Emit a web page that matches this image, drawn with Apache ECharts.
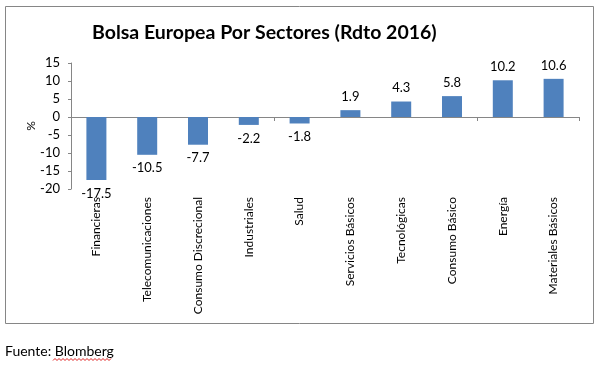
<!DOCTYPE html>
<html>
<head>
<meta charset="utf-8">
<script src="https://cdn.jsdelivr.net/npm/echarts@6/dist/echarts.min.js"></script>
<style>
html,body{margin:0;padding:0;background:#fff;}
#chart{width:601px;height:370px;}
</style>
</head>
<body>
<div id="chart"></div>
<script>
var categories = ["Financieras","Telecomunicaciones","Consumo Discrecional","Industriales","Salud","Servicios Básicos","Tecnológicas","Consumo Básico","Energía","Materiales Básicos"];
var values = [-17.5,-10.5,-7.7,-2.2,-1.8,1.9,4.3,5.8,10.2,10.6];
var yTicks = {min:-20, max:15, interval:5};

var FONT = "Lato, 'Open Sans', sans-serif";

// squiggle under "Blomberg"
var squig = [];
for (var x = 53, i = 0; x <= 112; x += 2, i++) squig.push([x, i % 2 ? 358.5 : 360.5]);

var chart = echarts.init(document.getElementById('chart'), null, {renderer:'canvas'});
chart.setOption({
  animation:false,
  backgroundColor:'#fff',
  title:{
    text:'Bolsa Europea Por Sectores (Rdto 2016)',
    left:87, top:18,
    textStyle:{fontFamily:FONT, fontWeight:'bold', fontSize:19.5, color:'#000'}
  },
  grid:{left:71, right:22, top:63, bottom:181, containLabel:false, outerBoundsMode:'none'},
  xAxis:[{
    type:'category', data:categories, position:'bottom',
    axisLine:{onZero:true, lineStyle:{color:'#868686', width:1}},
    axisTick:{show:true, length:4, lineStyle:{color:'#868686'}},
    axisLabel:{show:false},
    splitLine:{show:false}
  },{
    type:'category', data:categories, position:'bottom',
    axisLine:{show:false, onZero:false},
    axisTick:{show:false},
    axisLabel:{show:true, rotate:90, margin:8, interval:0, fontFamily:FONT, fontSize:12, color:'#000'},
    splitLine:{show:false}
  }],
  yAxis:{
    type:'value', min:yTicks.min, max:yTicks.max, interval:yTicks.interval,
    name:'%', nameLocation:'middle', nameRotate:90, nameGap:34, nameMoveOverlap:false,
    nameTextStyle:{fontFamily:FONT, fontSize:12, color:'#000'},
    axisLine:{show:true, lineStyle:{color:'#868686', width:1}},
    axisTick:{show:true, length:3, lineStyle:{color:'#868686'}},
    axisLabel:{margin:11, fontFamily:FONT, fontSize:13, color:'#000'},
    splitLine:{show:false}
  },
  series:[{
    type:'bar', xAxisIndex:0, barWidth:20,
    itemStyle:{color:'#4F81BD'},
    data: values.map(function(v){
      return {value:v, label:{position: v >= 0 ? 'top' : 'bottom'}};
    }),
    label:{show:true, distance:7, fontFamily:FONT, fontSize:13, color:'#000',
      formatter:function(p){return p.value.toFixed(1);}}
  }],
  graphic:[
    {type:'rect', shape:{x:5.5, y:6.5, width:588, height:317}, style:{fill:null, stroke:'#868686', lineWidth:1}, silent:true},
    {type:'text', left:5, top:344, style:{text:'Fuente: Blomberg', font:"14px "+FONT, fill:'#000'}},
    {type:'polyline', shape:{points:squig}, style:{stroke:'#e02020', lineWidth:1, fill:null}}
  ]
});
</script>
</body>
</html>
